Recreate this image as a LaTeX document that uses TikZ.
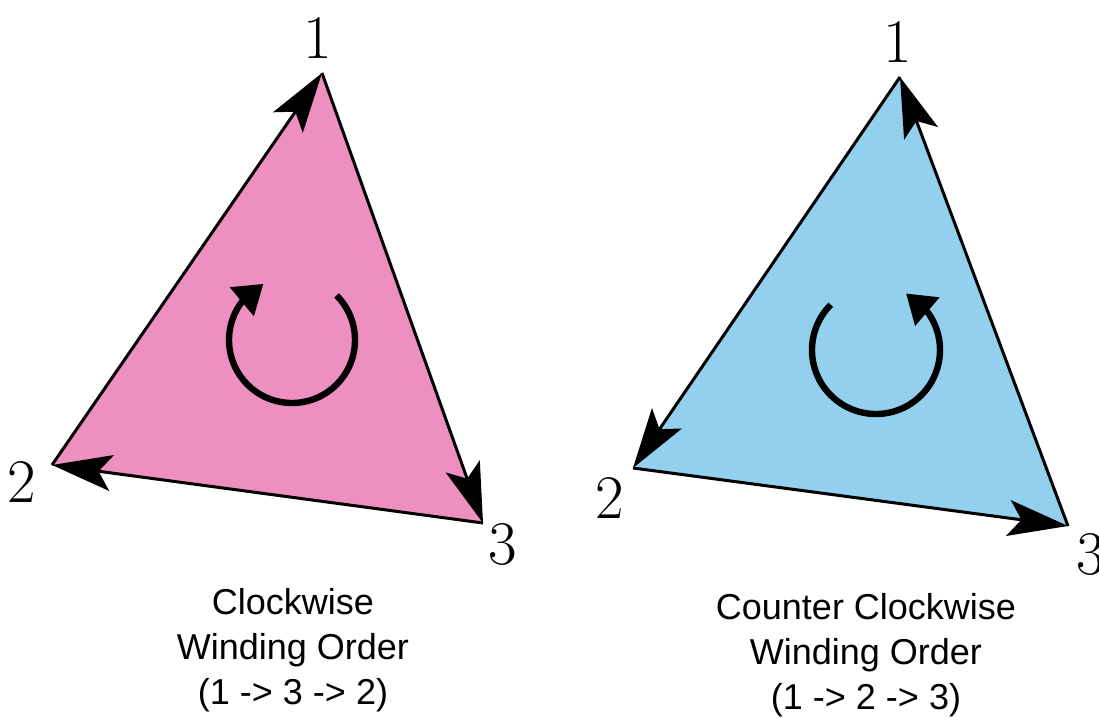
\documentclass[tikz,border=0pt]{standalone}
\usepackage{fontspec}
\newfontfamily\captionfont{Liberation Sans}
\usetikzlibrary{arrows.meta,bending}
\definecolor{cwpink}{RGB}{237,143,191}
\definecolor{ccwblue}{RGB}{146,208,237}

\begin{document}
\begin{tikzpicture}[x=0.5pt, y=0.5pt,
    edge/.style={line width=1.5pt, -{Stealth[length=30pt, width=18pt, inset=6.5pt]}},
    turn/.style={line width=3.2pt, -{Triangle[length=14pt, width=18pt]}},
    num/.style={inner sep=0pt, font=\fontsize{31}{31}\selectfont},
    captext/.style={inner sep=0pt, anchor=north, align=center, font=\captionfont\fontsize{18}{22.5}\selectfont}
]
\useasboundingbox (0,0) rectangle (1099,718);

% Clockwise
\coordinate (l1) at (322,645);
\coordinate (l2) at (52,253);
\coordinate (l3) at (483,195);
\coordinate (lc) at (292,378);
\fill[cwpink] (l1) -- (l2) -- (l3) -- cycle;
\draw[edge] (l2) -- (l1);
\draw[edge] (l1) -- (l3);
\draw[edge] (l3) -- (l2);
\draw[turn] ([shift={(45:63)}]lc) arc[start angle=45, end angle=-243, radius=31.5pt];
\node[num] (nl1) at (318,680) {1};
\node[num] (nl2) at (22,236) {2};
\node[num] (nl3) at (503,173) {3};
\node[captext] (capl) at (293,130) {Clockwise\\Winding Order\\(1 -> 3 -> 2)};

% Counter clockwise
\coordinate (r1) at (900,641);
\coordinate (r2) at (633,250);
\coordinate (r3) at (1068,192);
\coordinate (rc) at (876,368);
\fill[ccwblue] (r1) -- (r2) -- (r3) -- cycle;
\draw[edge] (r1) -- (r2);
\draw[edge] (r2) -- (r3);
\draw[edge] (r3) -- (r1);
\draw[turn] ([shift={(135:64)}]rc) arc[start angle=135, end angle=422, radius=32pt];
\node[num] (nr1) at (898,676) {1};
\node[num] (nr2) at (610,220) {2};
\node[num] (nr3) at (1091,163) {3};
\node[captext] (capr) at (866,125) {Counter Clockwise\\Winding Order\\(1 -> 2 -> 3)};
\end{tikzpicture}
\end{document}
